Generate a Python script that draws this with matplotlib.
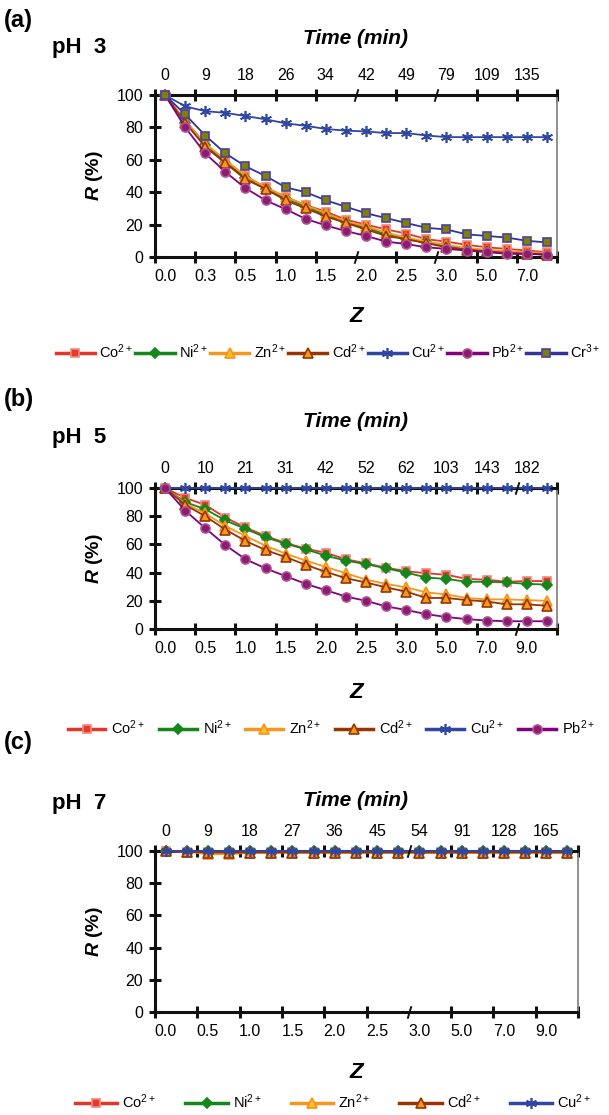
import matplotlib
matplotlib.use("Agg")
from matplotlib import pyplot as plt
from matplotlib.lines import Line2D

plt.rcParams['font.family'] = ['Liberation Sans', 'DejaVu Sans']
plt.rcParams['mathtext.fontset'] = 'custom'
plt.rcParams['mathtext.rm'] = 'Liberation Sans'
plt.rcParams['mathtext.it'] = 'Liberation Sans:italic'
plt.rcParams['mathtext.bf'] = 'Liberation Sans:bold'
plt.rcParams['mathtext.bfit'] = 'Liberation Sans:italic:bold'

# ---- data: removal R (%) at 20 sampling points per pH ----
ions = ['Co', 'Ni', 'Zn', 'Cd', 'Cu', 'Pb', 'Cr']
charges = {'Co': '2+', 'Ni': '2+', 'Zn': '2+', 'Cd': '2+', 'Cu': '2+', 'Pb': '2+', 'Cr': '3+'}

ph3_top = ['0', '9', '18', '26', '34', '42', '49', '79', '109', '135']
ph3_bottom = ['0.0', '0.3', '0.5', '1.0', '1.5', '2.0', '2.5', '3.0', '5.0', '7.0']
ph3_co = [100, 84, 70, 59, 50, 43, 37, 32, 28, 23, 20, 17, 14.5, 11, 9.5, 7.5, 6, 5, 4, 3]
ph3_ni = [100, 83, 69, 58, 49, 42, 36, 31, 26, 21.5, 18, 14, 11, 9, 6.5, 5, 3.5, 2.5, 2, 1.5]
ph3_zn = [100, 84, 70, 60, 50, 43, 37, 32, 27, 22, 19, 15, 12, 9.5, 7.5, 5.5, 4.5, 3.5, 3, 2.5]
ph3_cd = [100, 83, 68, 58, 48, 42, 35, 30, 25, 21, 17, 13, 11, 8.5, 6, 4.5, 3.5, 2.5, 2, 1.5]
ph3_cu = [100, 93, 90, 89, 87, 85, 82.5, 81, 79, 78, 77.5, 76.5, 76.5, 75, 74, 74, 74, 74, 74, 74]
ph3_pb = [100, 80, 64, 52.5, 42.5, 35, 29.5, 23.5, 19.5, 16, 13, 9.5, 8, 6, 5, 4, 3, 2, 2, 1.5]
ph3_cr = [100, 88, 75, 64, 56, 50, 43, 40, 35, 31, 27, 24, 21, 18, 17, 14, 13, 12, 10, 9]

ph5_top = ['0', '10', '21', '31', '42', '52', '62', '103', '143', '182']
ph5_bottom = ['0.0', '0.5', '1.0', '1.5', '2.0', '2.5', '3.0', '5.0', '7.0', '9.0']
ph5_co = [100, 93, 88, 79, 72, 66, 61, 57, 54, 49.5, 46.5, 43.5, 41, 39.5, 38.5, 35.5, 35, 33.5, 34, 34]
ph5_ni = [100, 90, 85, 77, 71, 65, 60.5, 56.5, 52, 48.5, 46, 43, 40, 36.5, 35.5, 33.5, 33.5, 33, 32, 31.5]
ph5_zn = [100, 89, 82, 73, 66, 59, 53.5, 48.5, 44, 39.5, 35, 32, 29.5, 26, 24.5, 22, 21, 21, 20.5, 20]
ph5_cd = [100, 88, 80, 70.5, 62.5, 56, 51, 45.5, 40.5, 36, 33, 29.5, 26.5, 22, 22, 20.5, 19.5, 17.5, 17.5, 16.5]
ph5_cu = [100] * 20
ph5_pb = [100, 84, 71.5, 59.5, 49.5, 43, 37.5, 32, 27.5, 23, 20, 16, 13.5, 10.5, 8.5, 7, 6, 5.5, 5.5, 5.5]

ph7_top = ['0', '9', '18', '27', '36', '45', '54', '91', '128', '165']
ph7_bottom = ['0.0', '0.5', '1.0', '1.5', '2.0', '2.5', '3.0', '5.0', '7.0', '9.0']
ph7_co = [100, 99.5, 99.5, 99.5, 99.5, 99.5, 99.5, 99.5, 99.5, 99.5, 99.5, 99.5, 99.5, 99.5, 99.5, 99.5, 99.5, 99.5, 99.5, 99.5]
ph7_ni = [100, 99.8, 99.8, 99.8, 99.8, 99.8, 99.8, 99.8, 99.8, 99.8, 99.8, 99.8, 99.8, 99.8, 99.8, 99.8, 99.8, 99.8, 99.8, 99.8]
ph7_zn = [100, 99.5, 98, 98, 99, 99, 99, 99, 99, 99, 99, 99, 99, 99, 99, 99, 99, 99, 99, 99]
ph7_cd = [100, 99.5, 99, 99, 99, 99, 99, 99, 99, 99, 99, 99, 99, 99, 99, 99, 99, 99, 99, 99]
ph7_cu = [100] * 20

styles = {
    'Co': dict(color='#E2362A', marker='s', mfc='#E8392B', mec='#F28A80', ms=6),
    'Ni': dict(color='#15861A', marker='D', mfc='#15861A', mec='#15861A', ms=5.5),
    'Zn': dict(color='#F5961E', marker='^', mfc='#FFC21E', mec='#F5921E', ms=7),
    'Cd': dict(color='#993300', marker='^', mfc='#F39A1E', mec='#993300', ms=7),
    'Cu': dict(color='#2F46A3', marker=(6, 2, 0), mfc='#2F46A3', mec='#2F46A3', ms=8),
    'Pb': dict(color='#800080', marker='o', mfc='#8B1C6E', mec='#B0509A', ms=6.5),
    'Cr': dict(color='#333399', marker='s', mfc='#808000', mec='#4A40A8', ms=6),
}

W, H = 609, 1115
fig = plt.figure(figsize=(W / 100, H / 100), dpi=100)


def fx(px):
    return px / W


def fy(py):
    return 1 - py / H


def panel(letter, ph, rect, series, top_labels, bottom_labels, slashes,
          txt_y, leg_y, leg_opts):
    left, top, right, bottom = rect
    ax = fig.add_axes([fx(left), fy(bottom), fx(right - left), fy(top) - fy(bottom)])
    n = 20
    x = list(range(n))
    for ion in series:
        st = styles[ion]
        ax.plot(x, series[ion], color=st['color'], lw=1.3, marker=st['marker'],
                ms=st['ms'], mfc=st['mfc'], mec=st['mec'], mew=1.2,
                clip_on=False, zorder=3)
    ax.set_xlim(-0.5, n - 0.5)
    ax.set_ylim(0, 100)
    ax.set_yticks([0, 20, 40, 60, 80, 100])
    for s in ('left', 'top', 'bottom'):
        ax.spines[s].set_linewidth(2.2)
        ax.spines[s].set_color('#111111')
    ax.spines['right'].set_linewidth(1.3)
    ax.spines['right'].set_color('#888888')

    bounds = [-0.5 + 2 * k for k in range(11)]
    ax.set_xticks([b for i, b in enumerate(bounds) if i not in slashes])
    ax.set_xticks(x[::2], minor=True)
    ax.set_xticklabels(bottom_labels, minor=True)
    ax.tick_params(axis='x', which='major', direction='inout', length=9, width=2.2,
                   top=True, bottom=True, labelbottom=False, color='#111111')
    ax.tick_params(axis='x', which='minor', length=0, pad=8.5, labelsize=11.5)
    ax.tick_params(axis='y', direction='inout', length=9, width=2.2, pad=4,
                   labelsize=11.5, color='#111111')
    # axis-break marks drawn in place of some boundary ticks
    for i in slashes:
        for yv in (0, 100):
            ax.plot([bounds[i]], [yv], marker=[(-0.3, -1), (0.3, 1)], ms=9,
                    mec='#111111', mfc='none', mew=1.4, clip_on=False, zorder=4)

    sec = ax.secondary_xaxis('top')
    sec.set_xticks(x[::2], labels=top_labels)
    sec.tick_params(length=0, pad=8.5, labelsize=11.5)
    sec.spines['top'].set_visible(False)

    ax.set_ylabel(r'$\mathbfit{R}$ (%)', fontsize=14, fontweight='bold', labelpad=8)
    cx = fx((left + 557) / 2)
    fig.text(fx(4), fy(txt_y[0]), letter, fontsize=17, fontweight='bold', va='center')
    fig.text(fx(52), fy(txt_y[1]), ph, fontsize=16, fontweight='bold', va='center')
    fig.text(cx, fy(txt_y[2]), 'Time (min)', fontsize=15, fontweight='bold',
             style='italic', ha='center', va='center')
    fig.text(cx, fy(txt_y[3]), 'Z', fontsize=16, fontweight='bold',
             style='italic', ha='center', va='center')

    handles = []
    for ion in series:
        st = styles[ion]
        handles.append(Line2D([], [], color=st['color'], lw=2.5, marker=st['marker'],
                              ms=st['ms'], mfc=st['mfc'], mec=st['mec'], mew=1.2,
                              label=ion + '$^{' + charges[ion] + '}$'))
    fig.legend(handles=handles, loc='center', bbox_to_anchor=(leg_opts['cx'], fy(leg_y)),
               ncol=len(handles), frameon=False, fontsize=10.5,
               handlelength=leg_opts['hl'], handletextpad=leg_opts['tp'],
               columnspacing=leg_opts['cs'], borderaxespad=0, borderpad=0)
    return ax


panel('(a)', 'pH  3', (155, 95, 557, 257),
      {'Co': ph3_co, 'Ni': ph3_ni, 'Zn': ph3_zn, 'Cd': ph3_cd,
       'Cu': ph3_cu, 'Pb': ph3_pb, 'Cr': ph3_cr},
      ph3_top, ph3_bottom, [5, 7], (20, 48, 38, 317), 352,
      dict(cx=fx(328), hl=2.7, tp=0.3, cs=0.15))

panel('(b)', 'pH  5', (155, 488, 557, 629),
      {'Co': ph5_co, 'Ni': ph5_ni, 'Zn': ph5_zn, 'Cd': ph5_cd,
       'Cu': ph5_cu, 'Pb': ph5_pb},
      ph5_top, ph5_bottom, [9], (400, 437, 422, 692), 728,
      dict(cx=fx(331), hl=2.6, tp=0.4, cs=0.95))

panel('(c)', 'pH  7', (155, 851, 578, 1012),
      {'Co': ph7_co, 'Ni': ph7_ni, 'Zn': ph7_zn, 'Cd': ph7_cd, 'Cu': ph7_cu},
      ph7_top, ph7_bottom, [6], (743, 803, 800, 1073), 1102,
      dict(cx=fx(333), hl=2.9, tp=0.35, cs=2.0))

fig.savefig('out.png', dpi=100)
